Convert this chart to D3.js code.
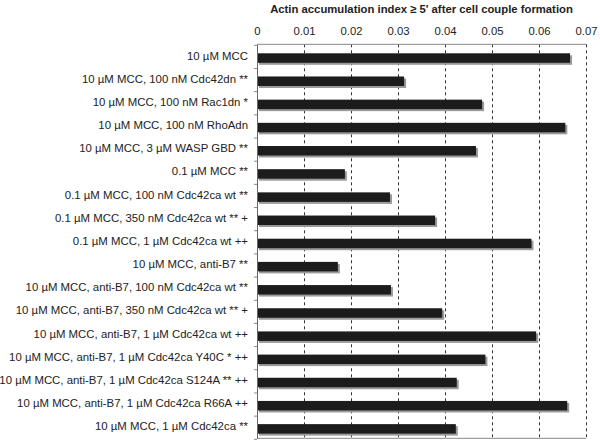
<!DOCTYPE html>
<html><head><meta charset="utf-8">
<script src="https://cdn.jsdelivr.net/npm/d3@7"></script>
<style>body{margin:0;background:#fff;}svg{display:block;font-family:"Liberation Sans",Arial,sans-serif;}</style>
</head><body><svg id="c" width="600" height="445"></svg>
<script>
const categories = [
"10 µM MCC",
"10 µM MCC, 100 nM Cdc42dn **",
"10 µM MCC, 100 nM Rac1dn *",
"10 µM MCC, 100 nM RhoAdn",
"10 µM MCC, 3 µM WASP GBD **",
"0.1 µM MCC **",
"0.1 µM MCC, 100 nM Cdc42ca wt **",
"0.1 µM MCC, 350 nM Cdc42ca wt ** +",
"0.1 µM MCC, 1 µM Cdc42ca wt ++",
"10 µM MCC, anti-B7 **",
"10 µM MCC, anti-B7, 100 nM Cdc42ca wt **",
"10 µM MCC, anti-B7, 350 nM Cdc42ca wt ** +",
"10 µM MCC, anti-B7, 1 µM Cdc42ca wt ++",
"10 µM MCC, anti-B7, 1 µM Cdc42ca Y40C * ++",
"10 µM MCC, anti-B7, 1 µM Cdc42ca S124A ** ++",
"10 µM MCC, anti-B7, 1 µM Cdc42ca R66A ++",
"10 µM MCC, 1 µM Cdc42ca **"
];
const values = [0.0666,0.0313,0.0479,0.0656,0.0466,0.0187,0.0283,0.0379,0.0584,0.0172,0.0285,0.0394,0.0594,0.0486,0.0425,0.0660,0.0423];
const tickValues = [0,0.01,0.02,0.03,0.04,0.05,0.06,0.07];
const tickLabels = ["0","0.01","0.02","0.03","0.04","0.05","0.06","0.07"];
const title = "Actin accumulation index \u2265 5' after cell couple formation";

const svg = d3.select("#c");
const L=257, R=586, T=44.3, B=438.3;
const x = d3.scaleLinear().domain([0,0.07]).range([L,R]);
const y = d3.scaleBand().domain(categories).range([T,B]);
const bw = y.bandwidth();

// gridlines
svg.append("g").selectAll("line").data(tickValues.slice(1)).join("line")
  .attr("x1",d=>Math.round(x(d))+0.5).attr("x2",d=>Math.round(x(d))+0.5)
  .attr("y1",T).attr("y2",B)
  .attr("stroke","#333").attr("stroke-width",1).attr("stroke-dasharray","3,3");

// top and bottom border
svg.append("line").attr("x1",L).attr("x2",R).attr("y1",T).attr("y2",T).attr("stroke","#888");
svg.append("line").attr("x1",L).attr("x2",R).attr("y1",B).attr("y2",B).attr("stroke","#888");

// top axis labels
const xa = d3.axisTop(x).tickValues(tickValues).tickFormat((d,i)=>tickLabels[i]).tickSize(0).tickPadding(0);
const gx = svg.append("g").attr("transform",`translate(0,35)`).call(xa);
gx.select(".domain").remove();
gx.selectAll("text").attr("font-size",11.3).attr("fill","#222").attr("dy",0);

// title
svg.append("text").attr("x",(L+R)/2).attr("y",13).attr("text-anchor","middle")
  .attr("font-size",11.3).attr("font-weight","bold").attr("fill","#222").text(title);

// shadows
svg.append("g").selectAll("rect").data(values).join("rect")
  .attr("x",L+2).attr("y",(d,i)=>y(categories[i])+9+2)
  .attr("width",d=>x(d)-L).attr("height",9.5).attr("fill","#9a9a9a");
// bars
svg.append("g").selectAll("rect").data(values).join("rect")
  .attr("x",L).attr("y",(d,i)=>y(categories[i])+9)
  .attr("width",d=>x(d)-L).attr("height",9.5).attr("fill","#1c1c1c");

// left axis
const ya = d3.axisLeft(y).tickSize(0).tickPadding(9);
const gy = svg.append("g").attr("transform",`translate(${L},0)`).call(ya);
gy.select(".domain").attr("stroke","#666");
gy.selectAll("text").attr("font-size",11.4).attr("fill","#222");
// boundary ticks
const bounds = d3.range(categories.length+1).map(i=>T+i*bw);
svg.append("g").selectAll("line").data(bounds).join("line")
  .attr("x1",L-3).attr("x2",L).attr("y1",d=>d+1).attr("y2",d=>d+1).attr("stroke","#888");
</script></body></html>
